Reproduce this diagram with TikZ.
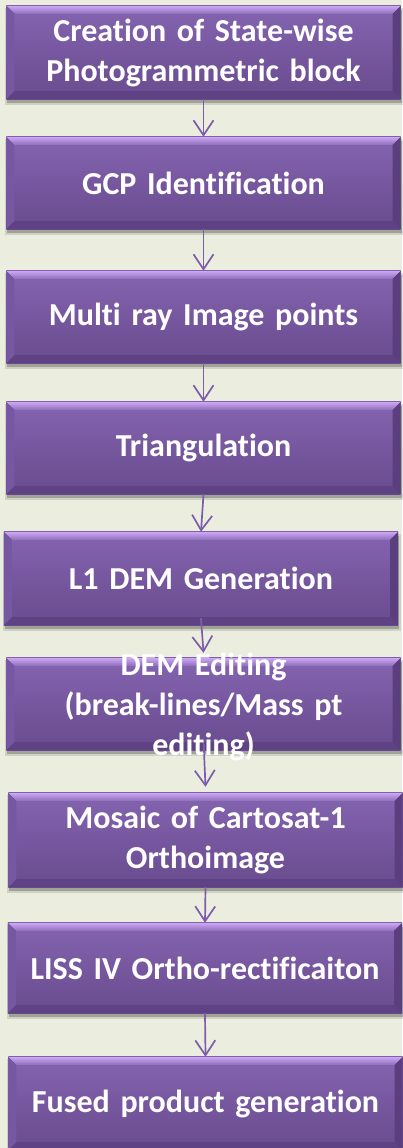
\documentclass[tikz,border=0pt]{standalone}
\usepackage{fontspec}
\setmainfont{Carlito}[Ligatures=NoCommon,WordSpace=0.8]
\usetikzlibrary{arrows.meta,shadows}
\pgfdeclarelayer{background}
\pgfdeclarelayer{links}
\pgfsetlayers{background,links,main}
\definecolor{bgcol}{HTML}{EBEEDF}
\definecolor{facetop}{HTML}{8464B0}
\definecolor{facebot}{HTML}{694B8E}
\definecolor{rimtop}{HTML}{CDA8F6}
\definecolor{rimleft}{HTML}{7657A3}
\definecolor{rimright}{HTML}{5A3E7E}
\definecolor{rimbot}{HTML}{5E4283}
\definecolor{arrowcol}{HTML}{7D5DAA}

\begin{document}
\begin{tikzpicture}[x=1pt,y=1pt,
  stepbox/.style={rectangle,inner sep=0pt,minimum width=394pt,minimum height=92pt,
    text=white,align=center,text width=390pt,
    font=\fontsize{32}{40}\selectfont\bfseries},
  flow/.style={draw=arrowcol,line width=1.7pt,-{Straight Barb[length=15pt,width=20pt,line width=1.7pt]}}]
\newcommand\bevel[1]{
\begin{pgfonlayer}{background}
\fill[black,opacity=0.22] ([shift={(1,-4)}]#1.north west) rectangle ([shift={(1,-4)}]#1.south east);
\fill[black,opacity=0.12] ([shift={(-1,-2)}]#1.north west) rectangle ([shift={(3,-6)}]#1.south east);
\shade[top color=facetop,bottom color=facebot] (#1.north west) rectangle (#1.south east);
\fill[top color=rimtop,bottom color=facetop!85!rimtop] (#1.north west) -- (#1.north east) -- ([shift={(-8,-8)}]#1.north east) -- ([shift={(8,-8)}]#1.north west) -- cycle;
\fill[rimleft] (#1.north west) -- ([shift={(8,-8)}]#1.north west) -- ([shift={(8,8)}]#1.south west) -- (#1.south west) -- cycle;
\fill[rimright] (#1.north east) -- ([shift={(-8,-8)}]#1.north east) -- ([shift={(-8,8)}]#1.south east) -- (#1.south east) -- cycle;
\fill[rimbot] (#1.south west) -- ([shift={(8,8)}]#1.south west) -- ([shift={(-8,8)}]#1.south east) -- (#1.south east) -- cycle;
\end{pgfonlayer}
}
\begin{pgfonlayer}{background}
\fill[bgcol] (0,0) rectangle (402,-1148);
\end{pgfonlayer}
\useasboundingbox (0,0) rectangle (402,-1148);
% boxes
\node[stepbox,minimum height=93pt] (s1) at (203.5,-52.5) {Creation of State-wise\\Photogrammetric block};
\bevel{s1}
\node[stepbox] (s2) at (203.5,-183) {GCP Identification};
\bevel{s2}
\node[stepbox] (s3) at (203.5,-317) {Multi ray Image points};
\bevel{s3}
\node[stepbox] (s4) at (203.5,-448) {Triangulation};
\bevel{s4}
\node[stepbox,minimum height=93pt] (s5) at (201,-578.5) {L1 DEM Generation};
\bevel{s5}
\node[stepbox] (s6) at (203.5,-704) {};
\node[stepbox] (t6) at (203.5,-707) {DEM Editing\\(break-lines/Mass pt\\editing)};
\bevel{s6}
\node[stepbox,minimum height=94pt] (s7) at (205.5,-840) {Mosaic of Cartosat-1\\Orthoimage};
\bevel{s7}
\node[stepbox,minimum height=90pt] (s8) at (205,-968) {LISS IV Ortho-rectificaiton};
\bevel{s8}
\node[stepbox,minimum height=93pt] (s9) at (205.5,-1103.5) {Fused product generation};
\bevel{s9}
% arrows
\begin{pgfonlayer}{links}
\draw[flow] (s1.south) -- (s2.north);
\draw[flow] (s2.south) -- (s3.north);
\draw[flow] (s3.south) -- (s4.north);
\draw[flow] (s4.south) -- (s5.north);
\draw[flow] ([yshift=7pt]s5.south) -- ([yshift=5pt]s6.north);
\draw[flow] ([yshift=10pt]s6.south) -- ([yshift=6pt]s7.north);
\draw[flow] (s7.south) -- (s8.north);
\draw[flow] (s8.south) -- (s9.north);
\end{pgfonlayer}
\end{tikzpicture}
\end{document}
